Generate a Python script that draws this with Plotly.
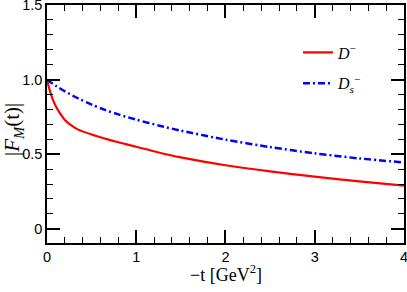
import plotly.graph_objects as go

t_D = [0, 0.03, 0.06, 0.1, 0.15, 0.2, 0.28, 0.35, 0.5, 0.65, 0.8, 1.0, 1.25, 1.5, 2.0, 2.5, 3.0, 3.5, 4.0]
F_D = [1.0, 0.93, 0.875, 0.82, 0.77, 0.73, 0.69, 0.665, 0.632, 0.605, 0.58, 0.55, 0.512, 0.479, 0.426, 0.385, 0.35, 0.318, 0.29]

t_Ds = [0, 0.1, 0.2, 0.35, 0.5, 0.65, 0.8, 1.0, 1.25, 1.5, 2.0, 2.5, 3.0, 3.5, 4.0]
F_Ds = [1.0, 0.958, 0.922, 0.874, 0.833, 0.797, 0.767, 0.732, 0.693, 0.658, 0.598, 0.548, 0.506, 0.472, 0.445]

x_ticks = [0, 1, 2, 3, 4]
y_ticks = [0, 0.5, 1.0, 1.5]
y_ticklabels = ["0", "0.5", "1.0", "1.5"]

x_title = "−t [GeV<sup>2</sup>]"
y_title = "|<i>F</i><sub><i>M</i></sub>(t)|"

fig = go.Figure()
fig.add_trace(go.Scatter(x=t_D, y=F_D, mode="lines", name="<i>D</i><sup>−</sup>", legendgroup="a",
                         line=dict(color="#ff0000", width=2.2, shape="spline", smoothing=0.8)))
fig.add_trace(go.Scatter(x=t_Ds, y=F_Ds, mode="lines", name="<i>D</i><sub><i>s</i></sub><sup>−</sup>", legendgroup="b",
                         line=dict(color="#0000ff", width=2.5, shape="spline", smoothing=0.8,
                                   dash="7px,3px,2px,3px")))

axis_common = dict(showline=True, linecolor="black", linewidth=1.6, mirror="allticks",
                   ticks="inside", ticklen=13, tickwidth=1.5, tickcolor="black",
                   showgrid=False, zeroline=False, automargin=False, ticklabeloverflow="allow",
                   tickfont=dict(family="Liberation Sans, Arial", size=14.5, color="black"))

fig.update_xaxes(range=[-0.0001, 4.0005], tickvals=x_ticks,
                 minor=dict(ticks="inside", ticklen=6, tickwidth=1.3, tickcolor="black", dtick=0.2, tick0=0, showgrid=False),
                 **axis_common)
fig.update_yaxes(range=[-0.095, 1.5005], tickvals=y_ticks, ticktext=y_ticklabels,
                 minor=dict(ticks="inside", ticklen=6, tickwidth=1.3, tickcolor="black", dtick=0.1, tick0=0, showgrid=False),
                 **axis_common)

serif = "Liberation Serif, Times New Roman"
fig.add_annotation(text=x_title, xref="paper", yref="paper", x=0.5, y=-0.13,
                   xanchor="center", yanchor="middle", showarrow=False,
                   font=dict(family=serif, size=18, color="black"))
fig.add_annotation(text=y_title, xref="paper", yref="paper", x=-0.095, y=0.475,
                   xanchor="center", yanchor="middle", showarrow=False, textangle=-90,
                   font=dict(family=serif, size=21, color="black"))

fig.update_layout(width=407, height=292, margin=dict(l=47, r=3, t=5, b=49),
                  paper_bgcolor="white", plot_bgcolor="white",
                  legend=dict(x=0.703, y=0.872, xanchor="left", yanchor="top",
                              bgcolor="rgba(0,0,0,0)", itemwidth=30, tracegroupgap=7,
                              font=dict(family=serif, size=16, color="black")),
                  showlegend=True)

fig.write_html("out.html", config={"displayModeBar": False},
               post_script="document.body.style.margin='0';document.body.style.overflow='hidden';")
